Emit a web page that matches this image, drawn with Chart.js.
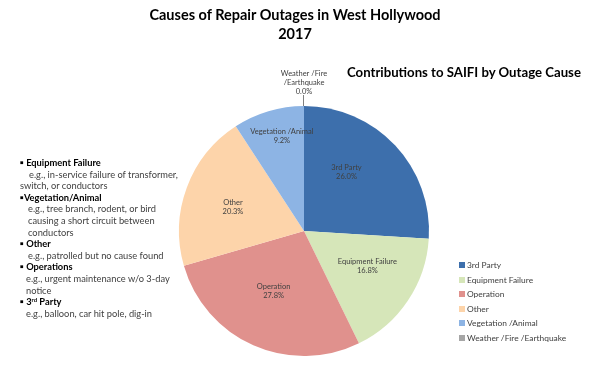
<!DOCTYPE html>
<html>
<head>
<meta charset="utf-8">
<script src="https://cdn.jsdelivr.net/npm/chart.js@4.4.0/dist/chart.umd.min.js"></script>
<style>
	html, body { margin: 0; padding: 0; background: #fff; }
	#wrap { position: relative; width: 600px; height: 374px; font-family: Lato, "Open Sans", sans-serif; color: #404040; }
	#chart-saifi { position: absolute; left: 0; top: 0; }
	.title { position: absolute; left: 0; width: 590px; text-align: center; font-weight: bold; font-size: 14.5px; color: #000; }
	.subtitle { position: absolute; left: 347px; top: 64px; font-weight: bold; font-size: 13.2px; color: #000; white-space: nowrap; }
	#notes { position: absolute; left: 20px; top: 157px; font-size: 9.3px; line-height: 11.6px; }
	#notes div { white-space: nowrap; height: 11.6px; }
	#notes b { color: #000; }
	#notes sup { font-size: 6px; line-height: 0; vertical-align: 3px; }
	#legend { position: absolute; left: 459px; top: 260px; font-size: 8.4px; }
	#legend div { height: 14.6px; white-space: nowrap; }
	#legend span { display: inline-block; width: 6px; height: 6px; margin-right: 2px; }
</style>
</head>
<body>
<div id="wrap">
	<canvas id="chart-saifi" width="600" height="374"></canvas>
	<div class="title" style="top:6px">Causes of Repair Outages in West Hollywood</div>
	<div class="title" style="top:25px">2017</div>
	<div class="subtitle">Contributions to SAIFI by Outage Cause</div>
	<div id="notes">
		<div><b>&#9642; Equipment Failure</b></div>
		<div style="padding-left:9px">e.g., in-service failure of transformer,</div>
		<div>switch, or conductors</div>
		<div><b>&#9642;Vegetation/Animal</b></div>
		<div style="padding-left:8px">e.g., tree branch, rodent, or bird</div>
		<div style="padding-left:8px">causing a short circuit between</div>
		<div style="padding-left:8px">conductors</div>
		<div><b>&#9642; Other</b></div>
		<div style="padding-left:8px">e.g., patrolled but no cause found</div>
		<div><b>&#9642; Operations</b></div>
		<div style="padding-left:6px">e.g., urgent maintenance w/o 3-day</div>
		<div style="padding-left:6px">notice</div>
		<div><b>&#9642; 3<sup>rd</sup> Party</b></div>
		<div style="padding-left:6px">e.g., balloon, car hit pole, dig-in</div>
	</div>
	<div id="legend"></div>
</div>
<script>
	// Chart data
	const CAUSES = ["3rd Party", "Equipment Failure", "Operation", "Other", "Vegetation /Animal", "Weather /Fire /Earthquake"];
	const SLICE_LABELS = [["3rd Party"], ["Equipment Failure"], ["Operation"], ["Other"], ["Vegetation /Animal"], ["Weather /Fire", "/Earthquake"]];
	const SAIFI_SHARE = [26.0, 16.8, 27.8, 20.3, 9.2, 0.0];
	const COLORS = ["#3d6fac", "#d6e6b9", "#e0918d", "#fdd4aa", "#8db4e4", "#a6a6a6"];

	// Legend (html)
	const LEGEND = document.getElementById("legend");
	CAUSES.forEach((name, i) => {
		const row = document.createElement("div");
		row.innerHTML = `<span style="background:${COLORS[i]}"></span>${name}`;
		LEGEND.appendChild(row);
	});

	// Draws the data labels inside the slices, zero slices get a leader line outside
	const sliceLabels = {
		id: "sliceLabels",
		afterDatasetsDraw(chart, args, opts) {
			const { ctx } = chart;
			const meta = chart.getDatasetMeta(0);
			ctx.save();
			ctx.font = "7.5px Lato, sans-serif";
			ctx.fillStyle = "#404040";
			ctx.textAlign = "center";
			ctx.textBaseline = "middle";
			meta.data.forEach((arc, i) => {
				const { x, y, startAngle, endAngle, outerRadius } = arc.getProps(["x", "y", "startAngle", "endAngle", "outerRadius"], true);
				const lines = [...SLICE_LABELS[i], SAIFI_SHARE[i].toFixed(1) + "%"];
				const mid = (startAngle + endAngle) / 2;
				if (SAIFI_SHARE[i] === 0) {
					const lx = x + Math.cos(mid) * outerRadius;
					const ly = y + Math.sin(mid) * outerRadius;
					ctx.strokeStyle = "#808080";
					ctx.lineWidth = 1;
					ctx.beginPath();
					ctx.moveTo(lx - 0.5, ly);
					ctx.lineTo(lx - 0.5, ly - 11);
					ctx.stroke();
					lines.forEach((t, k) => ctx.fillText(t, lx, ly - 14 - (lines.length - 1 - k) * 9));
					return;
				}
				const r = outerRadius * (opts.radius[i] || 0.58);
				const a = mid + (opts.shift[i] || 0);
				const cx = x + Math.cos(a) * r;
				const cy = y + Math.sin(a) * r;
				lines.forEach((t, k) => ctx.fillText(t, cx, cy + (k - (lines.length - 1) / 2) * 9));
			});
			ctx.restore();
		},
	};

	// Chart config
	const CHART_CONFIG = {
		type: "pie",
		data: {
			labels: CAUSES,
			datasets: [
				{
					data: SAIFI_SHARE,
					backgroundColor: COLORS,
					borderWidth: 0,
				},
			],
		},
		options: {
			responsive: false,
			animation: false,
			layout: {
				padding: { left: 179, right: 171, top: 106, bottom: 18 },
			},
			plugins: {
				legend: { display: false },
				tooltip: { enabled: false },
				sliceLabels: {
					radius: [0.58, 0.58, 0.54, 0.6, 0.78],
					shift: [-0.19, -0.08, 0.05, -0.03, 0.06],
				},
			},
		},
		plugins: [sliceLabels],
	};

	// Chart init
	new Chart(document.getElementById("chart-saifi"), CHART_CONFIG);
</script>
</body>
</html>
